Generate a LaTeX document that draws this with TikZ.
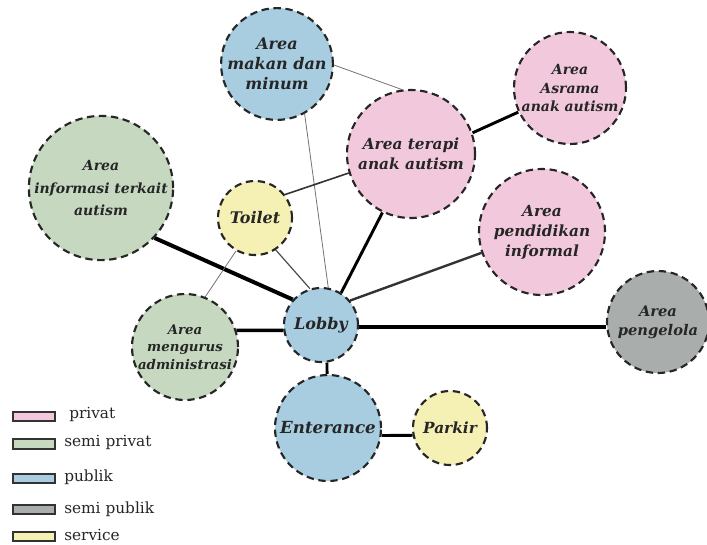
\documentclass[tikz,border=0pt]{standalone}
\usepackage{fontspec}
\setmainfont{Liberation Serif}
\newfontfamily\roomfont{DejaVu Serif}
\usetikzlibrary{backgrounds}
\definecolor{cpink}{HTML}{F2C9DC}
\definecolor{cgreen}{HTML}{C6D8C0}
\definecolor{cblue}{HTML}{A8CDE0}
\definecolor{cgray}{HTML}{A9ADAB}
\definecolor{cyellow}{HTML}{F5F0B3}
\definecolor{cink}{HTML}{262626}
\begin{document}
\begin{tikzpicture}[x=0.75pt,y=-0.75pt,
  room/.style={circle,draw=cink,line width=1.6pt,dash pattern=on 5.5pt off 3.5pt,
    inner sep=0pt,align=center,text=cink,minimum size={#1*1.5pt}},
  thinlink/.style={draw=black!55,line width=0.6pt},
  midlink/.style={draw=black!80,line width=1.2pt},
  strong/.style={draw=black,line width=2.2pt},
  heavy/.style={draw=black,line width=3pt},
  legbox/.style={draw=black!80,line width=1.1pt},
  legtext/.style={anchor=west,inner sep=0pt,font=\roomfont\fontsize{11.5}{14}\selectfont,text=black!85}
]
\useasboundingbox (0,0) rectangle (707,544);

% rooms
\node[room=53,fill=cblue,font=\roomfont\bfseries\itshape\fontsize{12}{15}\selectfont]  (makan)   at (277,64)  {Area\\makan dan\\minum};
\node[room=64,fill=cpink,font=\roomfont\bfseries\itshape\fontsize{11.5}{15}\selectfont]  (terapi)  at (411,154) {Area terapi\\anak autism};
\node[room=56,fill=cpink,font=\roomfont\bfseries\itshape\fontsize{10.5}{14}\selectfont]  (asrama)  at (570,88)  {Area\\Asrama\\anak autism};
\node[room=63,fill=cpink,font=\roomfont\bfseries\itshape\fontsize{11.5}{15}\selectfont]  (didik)   at (542,232) {Area\\pendidikan\\informal};
\node[room=51,fill=cgray,font=\roomfont\bfseries\itshape\fontsize{11}{14}\selectfont]  (kelola)  at (658,322) {Area\\pengelola};
\node[room=67,fill=cgreen,font=\roomfont\bfseries\itshape\fontsize{10.5}{17}\selectfont] (info)    at (101,188) {Area\\informasi terkait\\autism};
\node[room=37,fill=cyellow,font=\roomfont\bfseries\itshape\fontsize{12}{15}\selectfont](toilet)  at (255,218) {Toilet};
\node[room=37,fill=cblue,font=\roomfont\bfseries\itshape\fontsize{12}{15}\selectfont]  (lobby)   at (321,325) {Lobby};
\node[room=53,fill=cgreen,font=\roomfont\bfseries\itshape\fontsize{10}{13}\selectfont] (admin)   at (185,347) {Area\\mengurus\\administrasi};
\node[room=53,fill=cblue,font=\roomfont\bfseries\itshape\fontsize{12.5}{16}\selectfont]  (enter)   at (328,428) {Enterance};
\node[room=37,fill=cyellow,font=\roomfont\bfseries\itshape\fontsize{11.5}{15}\selectfont](parkir)  at (450,428) {Parkir};

% connectors
\begin{scope}[on background layer]
  \draw[thinlink] (makan.-1) -- (terapi.98);
  \draw[thinlink] (makan.-61) -- (lobby.79);
  \draw[midlink] (toilet.38) -- (terapi.-163);
  \draw[strong] (terapi.19) -- (asrama.-155);
  \draw[strong] (terapi.-116) -- (lobby.58);
  \draw[midlink,line width=1.8pt] (didik.-161) -- (lobby.40);
  \draw[heavy,line width=3.6pt] (lobby.-3) -- (lobby.-3 -| kelola.west);
  \draw[heavy] (info.-43) -- (lobby.138);
  \draw[draw=black!70,line width=0.9pt] (toilet.-57) -- (lobby.107);
  \draw[thinlink] (toilet.-120) -- (admin.68);
  \draw[heavy,line width=2.6pt] (admin.18) -- (lobby.-172);
  \draw[strong] (lobby.-81) -- (enter.91);
  \draw[strong] (enter.-8) -- (parkir.-169);
\end{scope}

% legend
\draw[legbox,fill=cpink]   (13,412) rectangle (55,421);
\draw[legbox,fill=cgreen]  (13,439) rectangle (55,449);
\draw[legbox,fill=cblue]   (13,474) rectangle (55,483);
\draw[legbox,fill=cgray]   (13,505) rectangle (55,514);
\draw[legbox,fill=cyellow] (13,532) rectangle (55,541);
\node[legtext] (lp) at (69,414) {privat};
\node[legtext] (lsp) at (64,442) {semi privat};
\node[legtext] (lpb) at (64,477) {publik};
\node[legtext] (lsb) at (64,509) {semi publik};
\node[legtext] (lsv) at (64,535) {service};
\end{tikzpicture}
\end{document}
